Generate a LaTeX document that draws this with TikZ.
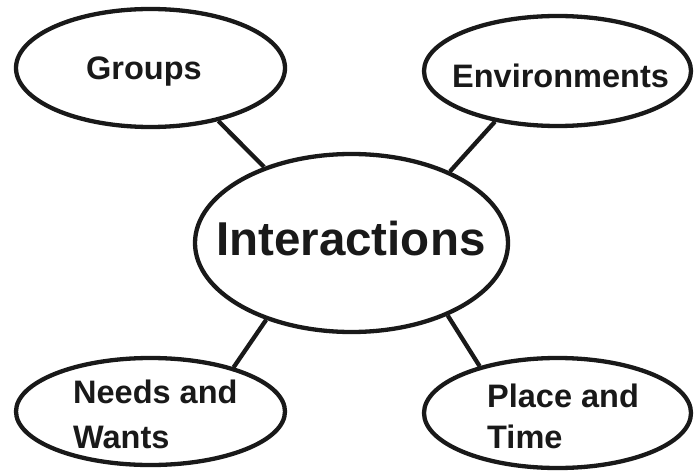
\documentclass[tikz,border=0pt]{standalone}
\usepackage{fontspec}
\setmainfont{Liberation Sans}
\usetikzlibrary{shapes.geometric}
\begin{document}
\begin{tikzpicture}[x=1pt,y=1pt,
  bub/.style={draw=black!90, ellipse, line width=4.3pt, inner sep=0pt, fill=white},
  lbl/.style={inner sep=0pt, anchor=base west, font=\fontsize{32.5}{38}\selectfont\bfseries, text=black!90},
  big/.style={inner sep=0pt, anchor=base west, font=\fontsize{47.5}{52}\selectfont\bfseries, text=black!90},
  link/.style={draw=black!90, line width=4.3pt}]
\useasboundingbox (0,0) rectangle (695,472);
\node[bub, minimum width=269pt, minimum height=118pt] (g) at (150.5,404) {};
\node[bub, minimum width=267pt, minimum height=110pt] (e) at (557.5,401) {};
\node[bub, minimum width=313pt, minimum height=178pt] (i) at (351.5,229) {};
\node[bub, minimum width=269pt, minimum height=107pt] (n) at (150.5,60.5) {};
\node[bub, minimum width=267pt, minimum height=110pt] (p) at (557.5,59) {};
\draw[link] (g.-38.7) -- (i.139.8);
\draw[link] (e.-141.3) -- (i.36.6);
\draw[link] (n.28.8) -- (i.222.7);
\draw[link] (p.149.8) -- (i.-37.6);
\node[lbl] (gt) at (86,392) {Groups};
\node[lbl] (et) at (452,384) {Environments};
\node[big] (it) at (216,217) {Interactions};
\node[lbl] (nt1) at (73,69) {Needs and};
\node[lbl] (nt2) at (73,24) {Wants};
\node[lbl] (pt1) at (487,65) {Place and};
\node[lbl] (pt2) at (487,24) {Time};
\end{tikzpicture}
\end{document}
